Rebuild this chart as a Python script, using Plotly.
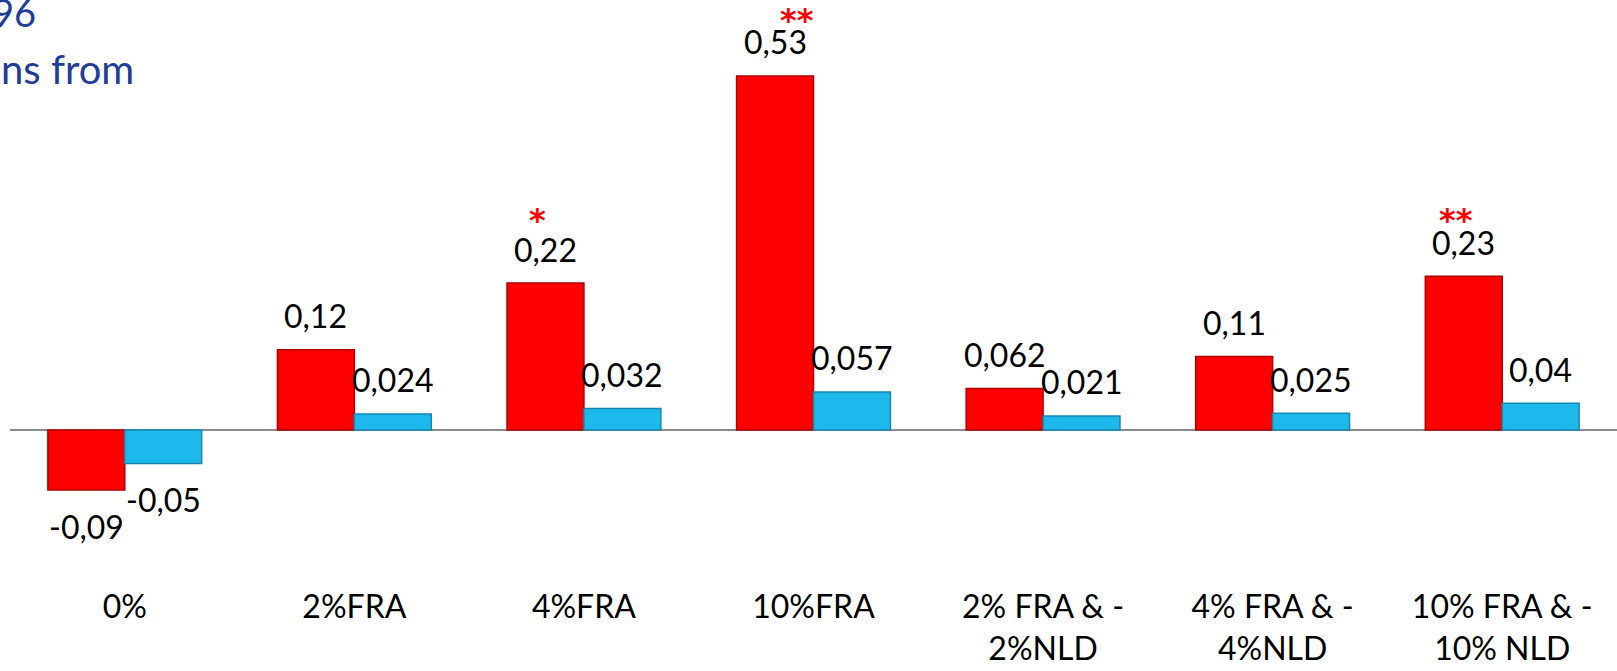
import plotly.graph_objects as go

# Categories and the two series of estimates
categories = ["0%", "2%FRA", "4%FRA", "10%FRA",
              "2% FRA & -<br>2%NLD", "4% FRA & -<br>4%NLD", "10% FRA & -<br>10% NLD"]
red_values = [-0.09, 0.12, 0.22, 0.53, 0.062, 0.11, 0.23]
blue_values = [-0.05, 0.024, 0.032, 0.057, 0.021, 0.025, 0.04]
# Significance markers for the red series
red_stars = ["", "", "*", "**", "", "", "**"]

RED = "#FF0000"
BLUE = "#1EB9EC"
TITLE_BLUE = "#1F3C98"
FONT = "Lato, 'Open Sans', sans-serif"
W, H = 1617, 671


def fmt(v):
    return str(v).replace(".", ",")


fig = go.Figure()
fig.add_trace(go.Bar(x=categories, y=red_values, name="red",
                     marker=dict(color=RED, line=dict(color="#B00000", width=1.5))))
fig.add_trace(go.Bar(x=categories, y=blue_values, name="blue",
                     marker=dict(color=BLUE, line=dict(color="#1588B0", width=1.5))))

annotations = []
BAR_HALF = 38.5
for cat, rv, bv, st in zip(categories, red_values, blue_values, red_stars):
    # value labels over (or under) each bar
    for v, dx in ((rv, -BAR_HALF), (bv, BAR_HALF)):
        annotations.append(dict(
            x=cat, y=v, xref="x", yref="y", text=fmt(v), showarrow=False,
            xshift=dx, yshift=34 if v >= 0 else -36, yanchor="middle",
            font=dict(family=FONT, size=32, color="black")))
    # significance stars above the red label
    if st:
        annotations.append(dict(
            x=cat, y=rv, xref="x", yref="y", text="<b>" + st + "</b>", showarrow=False,
            xshift=-46 if len(st) == 1 or rv < 0.4 else -17,
            yshift=63 if len(st) == 1 else 56,
            yanchor="middle",
            font=dict(family="DejaVu Sans", size=32, color=RED)))

# Tail ends of the title lines, running off the left edge
annotations.append(dict(x=28 / W, y=1 - 14 / H, xref="paper", yref="paper", text="96",
                        showarrow=False, xanchor="right", yanchor="middle",
                        font=dict(family=FONT, size=38, color=TITLE_BLUE)))
annotations.append(dict(x=127 / W, y=1 - 80 / H, xref="paper", yref="paper", text="ns from",
                        showarrow=False, xanchor="right", yanchor="middle",
                        font=dict(family=FONT, size=40, color=TITLE_BLUE)))

y_top = 430 / 668
y_bottom = -(575 - 430) / 668

fig.update_layout(
    width=W, height=H,
    margin=dict(l=10, r=0, t=0, b=96),
    barmode="group", bargap=0.33, bargroupgap=0,
    plot_bgcolor="white", paper_bgcolor="white",
    showlegend=False,
    annotations=annotations,
    font=dict(family=FONT, size=32, color="black"),
    xaxis=dict(showgrid=False, showline=False, ticks="", tickfont=dict(size=32),
               ticklabelstandoff=10),
    yaxis=dict(range=[y_bottom, y_top], showgrid=False, showticklabels=False,
               zeroline=True, zerolinecolor="#8C8C8C", zerolinewidth=2),
)

fig.write_html("out.html")
